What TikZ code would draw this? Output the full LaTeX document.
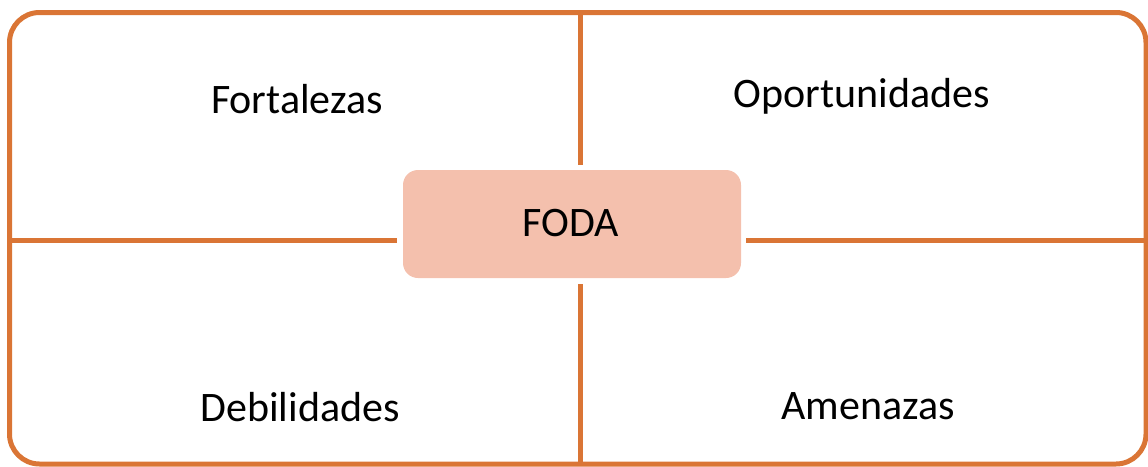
\documentclass[tikz,border=0pt]{standalone}
\usepackage{fontspec}
\setmainfont{Carlito}
\usepackage{xcolor}
\definecolor{fodaorange}{HTML}{DA7535}
\definecolor{fodafill}{HTML}{F4C0AD}

\begin{document}
\begin{tikzpicture}[x=1pt, y=-1pt,
    frame/.style={draw=fodaorange, line width=5pt},
    label/.style={anchor=base, font=\fontsize{42}{50}\selectfont, inner sep=0pt},
    centerbox/.style={fill=fodafill, rounded corners=15pt, minimum width=338pt, minimum height=108pt, inner sep=0pt}]
\useasboundingbox (0,0) rectangle (1148,466);
% outer frame
\draw[frame, rounded corners=30pt] (9.5,12.5) rectangle (1146,464);
\coordinate (top) at (580,12.5);
\coordinate (bottom) at (580,464);
\coordinate (left) at (9.5,240);
\coordinate (right) at (1146,240);
% centre box
\node[centerbox] (foda) at (572,224) {};
\node[label] (fodatext) at (571,236) {FODA};
% dividers
\draw[frame] (top) -- ([yshift=5pt]foda.north -| top);
\draw[frame] (bottom) -- ([yshift=-6pt]foda.south -| bottom);
\draw[frame] (left) -- ([xshift=-6pt]foda.west |- left);
\draw[frame] (right) -- ([xshift=5pt]foda.east |- right);
% quadrants
\node[label] (fort) at (297,113) {Fortalezas};
\node[label] (oport) at (862,107) {Oportunidades};
\node[label] (debil) at (300,421) {Debilidades};
\node[label] (amen) at (868,419) {Amenazas};
\end{tikzpicture}
\end{document}
